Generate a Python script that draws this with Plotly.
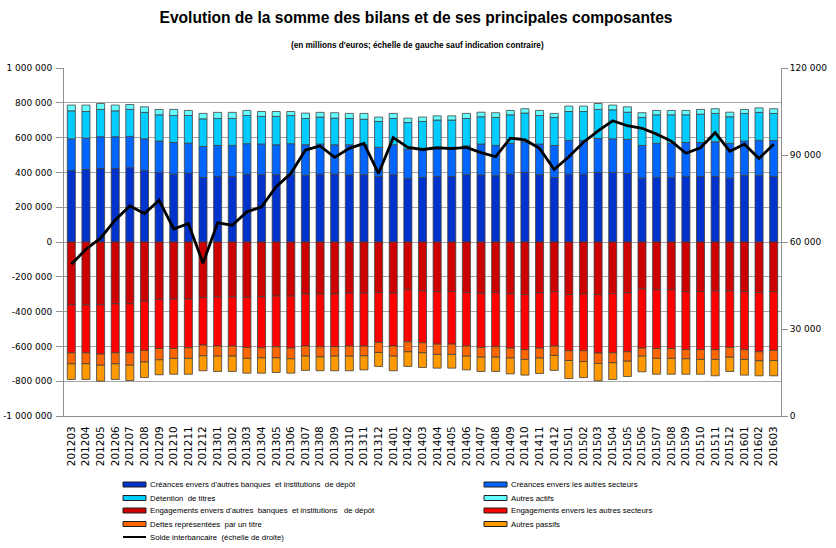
import plotly.graph_objects as go

months = ["201203","201204","201205","201206","201207","201208","201209","201210","201211","201212",
          "201301","201302","201303","201304","201305","201306","201307","201308","201309","201310","201311","201312",
          "201401","201402","201403","201404","201405","201406","201407","201408","201409","201410","201411","201412",
          "201501","201502","201503","201504","201505","201506","201507","201508","201509","201510","201511","201512",
          "201601","201602","201603"]

# Actifs (millions d'euros)
creances_banques = [411000,417000,423000,423000,427000,411000,400000,390000,396000,371000,
                    377000,377000,390000,387000,387000,387000,383000,390000,390000,385000,387000,377000,
                    387000,366000,371000,377000,377000,387000,385000,381000,390000,400000,387000,371000,
                    390000,390000,400000,400000,394000,367000,371000,371000,377000,377000,377000,367000,
                    383000,383000,377000]
creances_secteurs = [182000,180000,182000,182000,180000,182000,180000,182000,172000,178000,
                     178000,178000,175000,176000,172000,178000,176000,173000,169000,174000,172000,167000,
                     172000,166000,157000,161000,167000,166000,178000,174000,177000,176000,176000,184000,
                     194000,194000,195000,193000,196000,188000,196000,196000,195000,195000,199000,200000,
                     197000,201000,207000]
detention_titres = [161000,153000,157000,149000,155000,152000,151000,155000,159000,159000,
                    155000,155000,162000,159000,163000,162000,151000,155000,153000,151000,147000,149000,
                    151000,155000,165000,163000,157000,157000,157000,161000,164000,165000,164000,161000,
                    166000,166000,167000,167000,156000,161000,164000,164000,159000,163000,163000,153000,
                    159000,161000,155000]
autres_actifs = [33000,37000,34000,33000,28000,32000,31000,35000,29000,31000,
                 35000,35000,29000,28000,28000,23000,31000,27000,31000,29000,33000,25000,
                 29000,25000,25000,24000,24000,29000,26000,27000,25000,25000,29000,23000,
                 31000,31000,34000,27000,31000,27000,25000,25000,25000,27000,27000,26000,
                 23000,26000,27000]

# Passifs (millions d'euros, négatifs)
engagements_banques = [-361000,-361000,-361000,-355000,-355000,-339000,-330000,-328000,-328000,-320000,
                       -315000,-315000,-318000,-315000,-311000,-311000,-299000,-299000,-299000,-293000,-293000,-290000,
                       -293000,-275000,-281000,-285000,-285000,-290000,-294000,-290000,-298000,-302000,-292000,-285000,
                       -302000,-298000,-302000,-296000,-292000,-269000,-275000,-275000,-285000,-285000,-281000,-281000,
                       -285000,-290000,-285000]
engagements_secteurs = [-276000,-276000,-283000,-282000,-282000,-284000,-282000,-284000,-280000,-273000,
                        -283000,-283000,-288000,-293000,-291000,-299000,-299000,-303000,-303000,-305000,-305000,-287000,
                        -305000,-298000,-298000,-302000,-302000,-308000,-312000,-312000,-312000,-317000,-318000,-313000,
                        -323000,-327000,-336000,-341000,-339000,-341000,-338000,-338000,-334000,-334000,-338000,-325000,
                        -334000,-341000,-338000]
dettes_titre = [-63000,-63000,-64000,-63000,-71000,-67000,-65000,-57000,-61000,-61000,
                -58000,-58000,-63000,-58000,-64000,-61000,-58000,-58000,-54000,-58000,-56000,-58000,
                -58000,-58000,-58000,-59000,-59000,-58000,-56000,-60000,-57000,-56000,-57000,-54000,
                -56000,-62000,-60000,-57000,-54000,-46000,-56000,-56000,-52000,-56000,-56000,-56000,
                -56000,-52000,-58000]
autres_passifs = [-90000,-90000,-92000,-90000,-88000,-89000,-86000,-91000,-91000,-86000,
                  -88000,-88000,-85000,-88000,-84000,-83000,-82000,-80000,-84000,-84000,-81000,-80000,
                  -84000,-84000,-84000,-79000,-79000,-79000,-82000,-82000,-91000,-90000,-89000,-86000,
                  -104000,-92000,-100000,-96000,-88000,-90000,-91000,-91000,-89000,-85000,-94000,-82000,
                  -90000,-86000,-88000]

# Solde interbancaire (échelle de droite)
solde_interbancaire = [52300,57500,61300,67600,72400,69800,74400,64500,66400,52700,
                       66600,65800,70400,72100,79100,83600,91700,93100,89200,92300,94000,83600,
                       96000,92600,91900,92500,92200,92600,90800,89400,95800,95200,92300,85000,
                       89400,94400,98300,101800,100100,99200,97200,94800,90600,92500,97700,91300,
                       93700,88800,93700]

left_ticks = [-1000000,-800000,-600000,-400000,-200000,0,200000,400000,600000,800000,1000000]
left_ticktext = ["-1 000 000","-800 000","-600 000","-400 000","-200 000","0",
                 "200 000","400 000","600 000","800 000","1 000 000"]
right_ticks = [0,30000,60000,90000,120000]
right_ticktext = ["0","30 000","60 000","90 000","120 000"]

series_names = ["Créances envers d'autres banques  et institutions  de dépôt",
                "Créances envers les autres secteurs",
                "Détention  de titres",
                "Autres actifs",
                "Engagements envers d'autres  banques  et institutions   de dépôt",
                "Engagements envers les autres secteurs",
                "Dettes représentées  par un titre",
                "Autres passifs"]
series_values = [creances_banques, creances_secteurs, detention_titres, autres_actifs,
                 engagements_banques, engagements_secteurs, dettes_titre, autres_passifs]
series_colors = ["#0033CC", "#0066FF", "#00CCFF", "#66FFFF",
                 "#CC0000", "#FF0000", "#FF6600", "#FF9900"]
line_name = "Solde interbancaire  (échelle de droite)"

W, H = 836, 548
L, R, T, B = 64, 781, 68, 416   # plot area in pixels

def px_x(p):
    return (p - L) / (R - L)

def px_y(p):
    return (B - p) / (B - T)

fig = go.Figure()
for name, vals, col in zip(series_names, series_values, series_colors):
    fig.add_trace(go.Bar(x=months, y=vals, name=name, showlegend=False,
                         marker=dict(color=col, line=dict(color="#404040", width=0.8))))

fig.add_trace(go.Scatter(x=months, y=solde_interbancaire, name=line_name, showlegend=False,
                         mode="lines", line=dict(color="black", width=2.8), yaxis="y2"))

# Legend (two columns + line entry), drawn below the plot
legend_font = dict(family="Liberation Sans, Arial, sans-serif", size=7.8, color="black")
shapes = []
annotations = []
col_x = [123, 484]
row_y = [484.5, 498, 510.5, 524]
for i, (name, col) in enumerate(zip(series_names, series_colors)):
    cx = col_x[i % 2]
    ry = row_y[i // 2]
    shapes.append(dict(type="rect", xref="paper", yref="paper",
                       x0=px_x(cx), x1=px_x(cx + 23), y0=px_y(ry - 2.5), y1=px_y(ry + 2.5),
                       fillcolor=col, line=dict(color="#202020", width=1)))
    annotations.append(dict(text=name, xref="paper", yref="paper", x=px_x(cx + 24.5), y=px_y(ry),
                            xanchor="left", yanchor="middle", showarrow=False, font=legend_font))
shapes.append(dict(type="line", xref="paper", yref="paper",
                   x0=px_x(123), x1=px_x(146), y0=px_y(537), y1=px_y(537),
                   line=dict(color="black", width=2)))
annotations.append(dict(text=line_name, xref="paper", yref="paper", x=px_x(147.5), y=px_y(537),
                        xanchor="left", yanchor="middle", showarrow=False, font=legend_font))

annotations.append(dict(text="<b>(en millions d'euros; échelle de gauche sauf indication contraire)</b>",
                        xref="paper", yref="paper", x=0.5 * (px_x(290) + px_x(545)), y=px_y(45),
                        xanchor="center", yanchor="middle", showarrow=False,
                        font=dict(family="Liberation Sans, Arial, sans-serif", size=8.2, color="black")))

fig.update_layout(
    width=W, height=H,
    paper_bgcolor="white", plot_bgcolor="white",
    barmode="relative", bargap=0.45,
    margin=dict(l=L, r=W - R, t=T, b=H - B, autoexpand=False),
    font=dict(family="DejaVu Sans", size=9, color="black"),
    title=dict(text="<b>Evolution de la somme des bilans et de ses principales composantes</b>",
               x=416 / W, xanchor="center", y=1 - 18 / H, yanchor="middle",
               font=dict(family="Liberation Sans, Arial, sans-serif", size=15.6, color="black")),
    annotations=annotations,
    shapes=shapes,
    showlegend=False,
    xaxis=dict(type="category", tickangle=-90, showline=True, linecolor="#909090", linewidth=1,
               ticks="", tickfont=dict(size=10.5), showgrid=False, automargin=False, ticklabelstandoff=5),
    yaxis=dict(range=[-1000000, 1000000], tickvals=left_ticks, ticktext=left_ticktext,
               showgrid=True, gridcolor="#A6A6A6", gridwidth=1, zeroline=False,
               showline=True, linecolor="#909090", linewidth=1, ticks="outside", ticklen=7,
               tickcolor="#909090", tickfont=dict(size=9), automargin=False, ticklabelstandoff=2),
    yaxis2=dict(range=[0, 120000], tickvals=right_ticks, ticktext=right_ticktext, overlaying="y",
                side="right", showgrid=False, zeroline=False, showline=True, linecolor="#909090",
                linewidth=1, ticks="outside", ticklen=6, tickcolor="#909090", tickfont=dict(size=9),
                automargin=False),
)

fig.write_html("out.html", config={"displayModeBar": False},
               post_script="document.body.style.margin='0';")
